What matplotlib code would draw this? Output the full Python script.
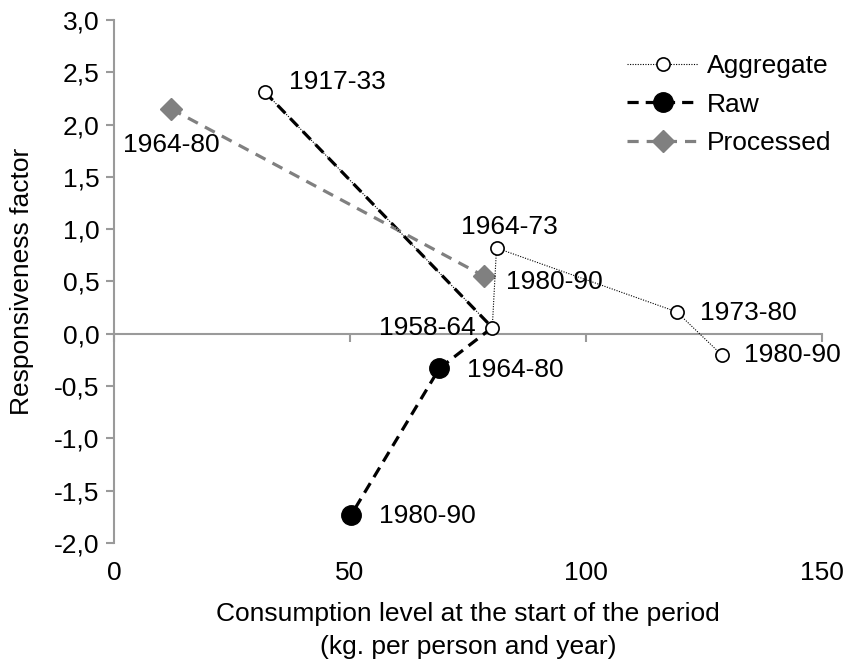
import matplotlib
matplotlib.use("Agg")
import matplotlib.pyplot as plt
from matplotlib.ticker import FuncFormatter

# Aggregate series (open circles, dotted line)
agg_x = [32.0, 80.2, 81.1, 119.3, 128.8]
agg_y = [2.31, 0.06, 0.82, 0.21, -0.20]
agg_labels = ["1917-33", "1958-64", "1964-73", "1973-80", "1980-90"]

# Raw series (black dashed, starts from the same two aggregate points)
raw_x = [32.0, 80.2, 69.0, 50.3]
raw_y = [2.31, 0.06, -0.33, -1.73]
raw_labels = ["", "", "1964-80", "1980-90"]

# Processed series (grey diamonds)
proc_x = [12.1, 78.5]
proc_y = [2.15, 0.55]
proc_labels = ["1964-80", "1980-90"]

x_ticks = [0, 50, 100, 150]
y_ticks = [-2.0, -1.5, -1.0, -0.5, 0.0, 0.5, 1.0, 1.5, 2.0, 2.5, 3.0]

plt.rcParams['font.family'] = ['Liberation Sans', 'DejaVu Sans']
FS = 19
AXIS_GREY = '#9a9a9a'

fig = plt.figure(figsize=(8.46, 6.70), dpi=100)
ax = fig.add_axes([114/846, 1-543/670, (821.5-114)/846, (543-20)/670])

ax.plot(raw_x, raw_y, color='black', lw=2.3, ls=(0, (3.5, 2.2)),
        marker='o', ms=14, markevery=[2, 3], label='Raw', zorder=3)
ax.plot(proc_x, proc_y, color='#808080', lw=2.3, ls=(0, (3.5, 2.5)),
        marker='D', ms=11, label='Processed', zorder=3)
ax.plot(agg_x, agg_y, color='black', lw=0.8, ls=(0, (1, 1.3)),
        marker='o', ms=9.5, mfc='white', mec='black', mew=1.2,
        label='Aggregate', zorder=4)

# point labels (offsets in points)
def lab(x, y, txt, dx, dy, ha='left'):
    ax.annotate(txt, (x, y), xytext=(dx, dy), textcoords='offset points',
                ha=ha, va='center', fontsize=FS, zorder=5)

agg_off = [(17, 7, 'left'), (-12, 0, 'right'), (9, 15, 'center'),
           (17, -1, 'left'), (16, 0, 'left')]
for x, y, t, (dx, dy, ha) in zip(agg_x, agg_y, agg_labels, agg_off):
    lab(x, y, t, dx, dy, ha)
raw_off = [None, None, (20, -1, 'left'), (20, -1, 'left')]
for x, y, t, o in zip(raw_x, raw_y, raw_labels, raw_off):
    if t:
        lab(x, y, t, o[0], o[1], o[2])
proc_off = [(0, -26, 'center'), (16, -4, 'left')]
for x, y, t, (dx, dy, ha) in zip(proc_x, proc_y, proc_labels, proc_off):
    lab(x, y, t, dx, dy, ha)

ax.set_xlim(0, 150)
ax.set_ylim(-2.0, 3.0)
ax.set_yticks(y_ticks)
ax.set_xticks(x_ticks)
ax.yaxis.set_major_formatter(FuncFormatter(lambda v, p: f"{v:.1f}".replace('.', ',')))

for s in ['top', 'right']:
    ax.spines[s].set_visible(False)
for s in ['left', 'bottom']:
    ax.spines[s].set_color(AXIS_GREY)
    ax.spines[s].set_linewidth(1.5)
# horizontal axis line crosses at zero, ticks pointing down
ax.spines['bottom'].set_position(('data', 0))
ax.tick_params(axis='y', direction='out', length=5.5, width=1.5,
               color=AXIS_GREY, labelsize=FS, pad=5)
ax.tick_params(axis='x', direction='out', length=5.5, width=1.5,
               color=AXIS_GREY, labelbottom=False)

# category labels stay at the bottom of the plot
sec = ax.secondary_xaxis('bottom')
sec.set_xticks(x_ticks)
sec.spines['bottom'].set_visible(False)
sec.tick_params(axis='x', length=0, labelsize=FS, pad=13)
sec.set_xlabel("Consumption level at the start of the period\n(kg. per person and year)",
               fontsize=FS, labelpad=12, linespacing=1.5)
ax.set_ylabel("Responsiveness factor", fontsize=FS, labelpad=14)

handles, labels = ax.get_legend_handles_labels()
order = [2, 0, 1]
ax.legend([handles[i] for i in order], [labels[i] for i in order],
          loc='upper left', bbox_to_anchor=(0.71, 0.955), frameon=False,
          fontsize=FS, handlelength=2.7, handletextpad=0.35,
          labelspacing=0.55, borderaxespad=0)

fig.savefig("out.png", dpi=100)
